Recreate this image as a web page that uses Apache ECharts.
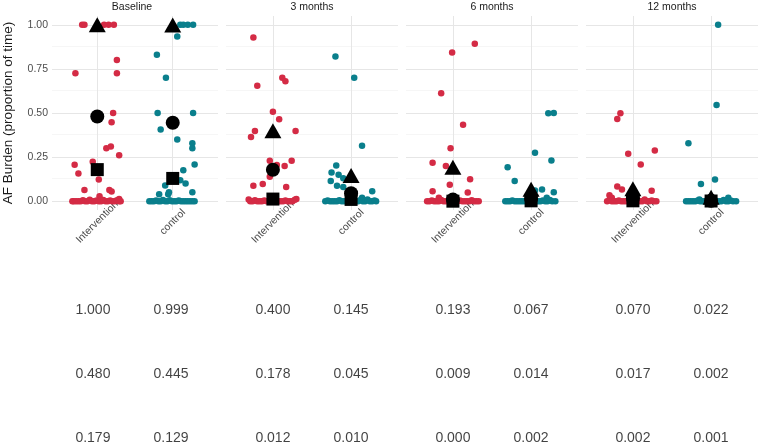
<!DOCTYPE html>
<html><head><meta charset="utf-8">
<script src="https://cdn.jsdelivr.net/npm/echarts@6/dist/echarts.min.js"></script>
<style>html,body{margin:0;padding:0;background:#fff}#c{width:760px;height:446px}</style>
</head><body><div id="c"></div>
<script>
const facets = ['Baseline', '3 months', '6 months', '12 months'];
const groups = ['Intervention', 'control'];
const yTicks = [0, 0.25, 0.5, 0.75, 1];
const yMinor = [0.125, 0.375, 0.625, 0.875];

// summary rows (triangle / circle / square), order: facet x group
const statTriangle = [1.000, 0.999, 0.400, 0.145, 0.193, 0.067, 0.070, 0.022];
const statCircle   = [0.480, 0.445, 0.178, 0.045, 0.009, 0.014, 0.017, 0.002];
const statSquare   = [0.179, 0.129, 0.012, 0.010, 0.000, 0.002, 0.002, 0.001];

// individual points: [jitter offset, AF burden]
const baselineIntervention = [[-0.20,1],[-0.17,1],[0.09,1],[0.15,1],[0.22,1],[0.26,0.80],[-0.29,0.725],[0.26,0.725],[0.21,0.50],[0.19,0.447],[0.12,0.30],[0.18,0.31],[0.29,0.26],[-0.30,0.206],[-0.25,0.157],[-0.06,0.224],[0.02,0.123],[-0.17,0.063],[0.16,0.063],[0.19,0.055],[0.03,0.028],[0.29,0.013],
  [-0.33,0],[-0.31,0],[-0.28,0],[-0.25,0],[-0.22,0],[-0.19,0.005],[-0.16,0],[-0.13,0],[-0.10,0.008],[-0.07,0],[-0.04,0],[-0.01,0.004],[0.02,0],[0.05,0],[0.08,0.006],[0.11,0],[0.14,0],[0.17,0.004],[0.20,0],[0.23,0],[0.26,0.005],[0.29,0],[0.31,0]];
const baselineControl = [[0.10,1],[0.14,1],[0.20,1],[0.27,1],[0.06,0.934],[-0.21,0.83],[-0.09,0.70],[-0.20,0.50],[0.27,0.50],[-0.16,0.407],[0.06,0.35],[0.26,0.328],[0.26,0.30],[0.29,0.208],[0.14,0.176],[0.10,0.119],[0.17,0.10],[-0.10,0.089],[-0.18,0.04],[-0.06,0.04],[-0.05,0.05],[0.26,0.05],
  [-0.31,0],[-0.28,0],[-0.25,0],[-0.22,0.004],[-0.19,0],[-0.16,0],[-0.13,0.006],[-0.10,0],[-0.07,0],[-0.04,0.005],[-0.01,0],[0.02,0],[0.05,0],[0.08,0.004],[0.11,0],[0.14,0],[0.17,0],[0.20,0],[0.23,0],[0.26,0],[0.29,0]];
const m3Intervention = [[-0.25,0.928],[-0.20,0.655],[0.12,0.70],[0.16,0.68],[0.00,0.507],[0.08,0.464],[-0.23,0.398],[-0.28,0.364],[0.29,0.398],[-0.04,0.229],[0.24,0.229],[0.15,0.199],[0.05,0.205],[-0.04,0.138],[-0.25,0.087],[-0.13,0.097],[0.17,0.081],
  [-0.31,0.01],[-0.29,0],[-0.26,0],[-0.23,0.005],[-0.20,0],[-0.17,0],[-0.14,0],[-0.11,0.004],[-0.08,0],[-0.05,0],[-0.02,0],[0.01,0],[0.04,0.006],[0.07,0],[0.10,0],[0.13,0],[0.16,0.004],[0.19,0],[0.22,0],[0.25,0],[0.28,0.008],[0.30,0.012]];
const m3Control = [[-0.20,0.82],[0.04,0.70],[0.14,0.314],[-0.19,0.203],[-0.25,0.163],[-0.16,0.15],[-0.26,0.114],[-0.10,0.13],[-0.18,0.087],[-0.10,0.081],[0.27,0.057],[0.14,0.02],
  [-0.33,0],[-0.30,0.004],[-0.27,0],[-0.24,0],[-0.21,0],[-0.18,0],[-0.15,0.005],[-0.12,0],[-0.09,0],[-0.06,0],[-0.03,0.004],[0.00,0],[0.03,0],[0.06,0],[0.09,0],[0.12,0.006],[0.15,0],[0.18,0],[0.21,0.01],[0.24,0],[0.27,0],[0.30,0.004],[0.32,0]];
const m6Intervention = [[0.28,0.892],[-0.01,0.843],[-0.15,0.612],[0.13,0.434],[-0.03,0.30],[-0.26,0.218],[-0.09,0.20],[0.22,0.125],[-0.04,0.093],[-0.26,0.057],[0.19,0.049],[-0.18,0.02],
  [-0.33,0],[-0.30,0],[-0.27,0.004],[-0.24,0],[-0.21,0],[-0.18,0],[-0.15,0.006],[-0.12,0],[-0.09,0],[-0.06,0],[-0.03,0],[0.00,0],[0.03,0],[0.06,0],[0.09,0.004],[0.12,0],[0.15,0],[0.18,0],[0.21,0],[0.24,0.005],[0.27,0],[0.30,0],[0.33,0]];
const m6Control = [[0.22,0.498],[0.29,0.50],[0.05,0.275],[0.26,0.231],[-0.30,0.193],[-0.21,0.115],[0.14,0.066],[0.05,0.06],[0.29,0.051],[0.20,0.02],
  [-0.33,0],[-0.30,0],[-0.27,0],[-0.24,0.004],[-0.21,0],[-0.18,0],[-0.15,0],[-0.12,0],[-0.09,0],[-0.06,0],[-0.03,0],[0.00,0],[0.03,0.005],[0.06,0],[0.09,0],[0.12,0],[0.15,0.004],[0.18,0],[0.21,0],[0.24,0.006],[0.27,0],[0.31,0]];
const m12Intervention = [[-0.16,0.498],[-0.20,0.466],[-0.06,0.269],[0.28,0.288],[0.10,0.208],[-0.20,0.083],[-0.14,0.066],[0.24,0.059],[-0.30,0.034],[-0.27,0.02],
  [-0.33,0],[-0.30,0.006],[-0.27,0],[-0.24,0],[-0.21,0],[-0.18,0.004],[-0.15,0],[-0.12,0],[-0.09,0],[-0.06,0],[-0.03,0],[0.00,0],[0.03,0],[0.06,0.005],[0.09,0],[0.12,0],[0.15,0.01],[0.18,0],[0.21,0],[0.24,0.004],[0.27,0],[0.30,0]];
const m12Control = [[0.09,1.0],[0.07,0.545],[-0.29,0.328],[0.05,0.123],[-0.13,0.097],[0.22,0.02],[-0.15,0.01],
  [-0.32,0],[-0.29,0],[-0.26,0],[-0.23,0],[-0.20,0],[-0.17,0.004],[-0.14,0],[-0.11,0],[-0.08,0],[-0.05,0],[-0.02,0],[0.01,0.005],[0.04,0],[0.07,0],[0.10,0],[0.13,0],[0.16,0.006],[0.19,0],[0.22,0],[0.25,0.004],[0.28,0],[0.32,0]];

const pointSets = [
  [baselineIntervention, baselineControl],
  [m3Intervention, m3Control],
  [m6Intervention, m6Control],
  [m12Intervention, m12Control]
];

const colors = ['#d42b45', '#0a7f8c'];
const font = 'Liberation Sans, Arial, Helvetica, sans-serif';
const panelLeft = [46, 226, 406, 586];
const panelW = 172;

const grids = [], xAxes = [], yAxes = [], series = [], titles = [];

facets.forEach((f, i) => {
  grids.push({ left: panelLeft[i], top: 16, width: panelW, height: 194, containLabel: false });
  xAxes.push({
    type: 'value', gridIndex: i, min: 0.4, max: 2.6,
    axisLine: { show: false }, axisTick: { show: false }, splitLine: { show: false },
    axisLabel: {
      customValues: [1, 2],
      formatter: v => groups[Math.round(v) - 1] || '',
      rotate: 45, align: 'center', verticalAlign: 'middle', margin: 12,
      color: '#4d4d4d', fontSize: 10.5, fontFamily: font
    }
  });
  yAxes.push({
    type: 'value', gridIndex: i, min: -0.05, max: 1.05,
    axisLine: { show: false }, axisTick: { show: false }, splitLine: { show: false },
    axisLabel: i === 0 ? {
      customValues: yTicks, formatter: v => v.toFixed(2),
      color: '#4d4d4d', fontSize: 10.5, fontFamily: font, margin: 4
    } : { show: false },
    name: i === 0 ? 'AF Burden (proportion of time)' : '',
    nameLocation: 'middle', nameGap: 37, nameRotate: 90,
    nameTextStyle: { color: '#1a1a1a', fontSize: 13.5, fontFamily: font }
  });
  titles.push({
    text: f, left: panelLeft[i] + panelW / 2, top: 2, textAlign: 'center', padding: 0,
    textStyle: { color: '#1a1a1a', fontSize: 10.5, fontWeight: 'normal', fontFamily: font }
  });
  // gridlines
  series.push({
    type: 'line', xAxisIndex: i, yAxisIndex: i, data: [], z: 0, silent: true,
    markLine: {
      z: 0, zlevel: 0,
      silent: true, symbol: 'none', animation: false, label: { show: false },
      data: [
        ...yMinor.map(v => ({ yAxis: v, lineStyle: { color: '#f2f2f2', width: 0.7, type: 'solid' } })),
        ...yTicks.map(v => ({ yAxis: v, lineStyle: { color: '#e6e6e6', width: 1, type: 'solid' } })),
        ...[1, 2].map(v => ({ xAxis: v, lineStyle: { color: '#e6e6e6', width: 1, type: 'solid' } }))
      ]
    }
  });
  pointSets[i].forEach((pts, g) => {
    series.push({
      type: 'scatter', xAxisIndex: i, yAxisIndex: i, clip: false, z: 2,
      symbolSize: 6.5, itemStyle: { color: colors[g], opacity: 1 },
      data: pts.map(p => [g + 1 + p[0], p[1]])
    });
  });
  const stats = [
    { arr: statTriangle, symbol: 'triangle', size: [17, 15] },
    { arr: statCircle, symbol: 'circle', size: 14 },
    { arr: statSquare, symbol: 'rect', size: 13 }
  ];
  stats.forEach(s => {
    series.push({
      type: 'scatter', xAxisIndex: i, yAxisIndex: i, clip: false, z: 3,
      symbol: s.symbol, symbolSize: s.size, itemStyle: { color: '#000', opacity: 1 },
      data: [[1, s.arr[2 * i]], [2, s.arr[2 * i + 1]]]
    });
  });
});

// table of summary values
facets.forEach((f, i) => {
  const gi = grids.length;
  grids.push({ left: panelLeft[i], top: 278, width: panelW, height: 168 });
  xAxes.push({ type: 'value', gridIndex: gi, min: 0.4, max: 2.6, show: false });
  yAxes.push({ type: 'value', gridIndex: gi, min: 0.5, max: 3.125, inverse: true, show: false });
  const rows = [statTriangle, statCircle, statSquare];
  const data = [];
  rows.forEach((r, ri) => {
    [0, 1].forEach(g => data.push([g + 1, ri + 1, r[2 * i + g]]));
  });
  series.push({
    type: 'scatter', xAxisIndex: gi, yAxisIndex: gi, symbolSize: 0, silent: true, clip: false,
    data: data,
    label: {
      show: true, position: 'inside', formatter: p => p.value[2].toFixed(3),
      color: '#111111', fontSize: 14, fontFamily: font
    }
  });
});

const chart = echarts.init(document.getElementById('c'), null, { renderer: 'canvas' });
chart.setOption({
  animation: false,
  backgroundColor: '#ffffff',
  title: titles,
  grid: grids,
  xAxis: xAxes,
  yAxis: yAxes,
  series: series
});
</script>
</body></html>
